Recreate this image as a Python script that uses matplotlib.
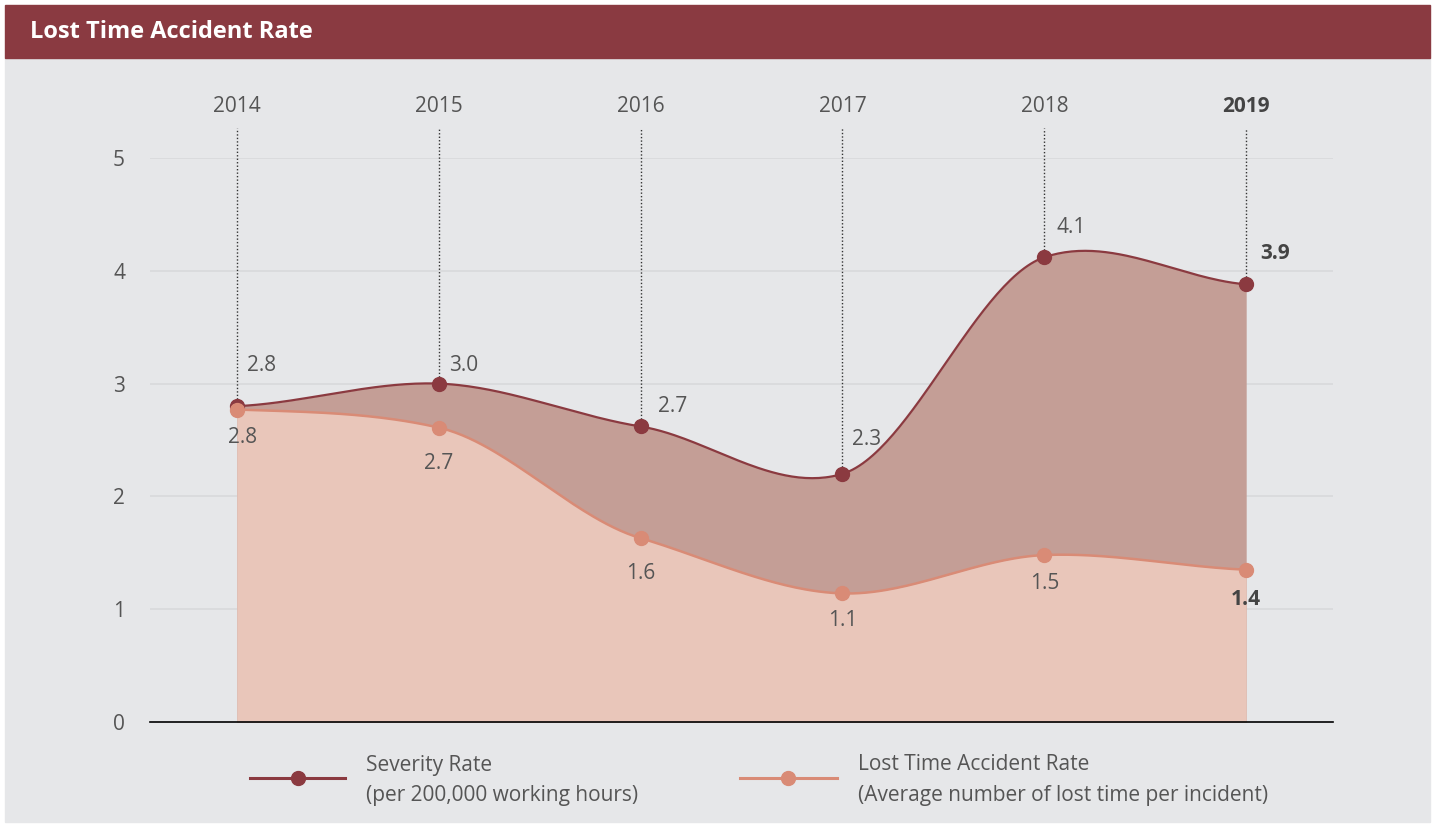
import numpy as np
import matplotlib
matplotlib.use("Agg")
import matplotlib.pyplot as plt
from matplotlib.patches import Rectangle
from matplotlib.lines import Line2D

plt.rcParams['font.family'] = ['Open Sans', 'DejaVu Sans']

# ---------------- data ----------------
years = ["2014", "2015", "2016", "2017", "2018", "2019"]
severity = [2.80, 3.00, 2.62, 2.20, 4.12, 3.88]
severity_labels = ["2.8", "3.0", "2.7", "2.3", "4.1", "3.9"]
lost_time = [2.77, 2.61, 1.63, 1.14, 1.48, 1.35]
lost_time_labels = ["2.8", "2.7", "1.6", "1.1", "1.5", "1.4"]
yticks = [0, 1, 2, 3, 4, 5]
title = "Lost Time Accident Rate"
legend_sev = ["Severity Rate", "(per 200,000 working hours)"]
legend_lost = ["Lost Time Accident Rate", "(Average number of lost time per incident)"]

# ---------------- style ----------------
W, H = 1435, 827
C_BAR = "#8A3A41"
C_BG = "#E6E7E9"
C_SEV = "#8B3A40"
C_SEV_FILL = "#C49E96"
C_LOST = "#D98B76"
C_LOST_FILL = "#E9C6BA"
C_TXT = "#555555"
C_TXT_B = "#444444"
# label offsets in pixels (style only)
sev_off = [(25, 41), (25, 18), (32, 20), (24, 34), (27, 30), (29, 31)]
lost_off = [(6, -28), (0, -36), (0, -35), (0, -27), (0, -28), (0, -30)]


def smooth(y, n=60, k=0.36):
    """Cubic Hermite curve through the points (cardinal-spline tangents)."""
    y = np.asarray(y, float)
    npts = len(y)
    m = np.zeros(npts)
    for i in range(npts):
        if i == 0:
            m[i] = (y[1] - y[0]) * 0.4
        elif i == npts - 1:
            m[i] = (y[-1] - y[-2]) * 0.6
        else:
            m[i] = (y[i + 1] - y[i - 1]) * k
    xs, ys = [], []
    for i in range(npts - 1):
        t = np.linspace(0, 1, n, endpoint=(i == npts - 2))
        h00 = 2 * t**3 - 3 * t**2 + 1
        h10 = t**3 - 2 * t**2 + t
        h01 = -2 * t**3 + 3 * t**2
        h11 = t**3 - t**2
        xs.append(i + t)
        ys.append(h00 * y[i] + h10 * m[i] + h01 * y[i + 1] + h11 * m[i + 1])
    return np.concatenate(xs), np.concatenate(ys)


fig = plt.figure(figsize=(W / 100, H / 100), dpi=100)
fig.patch.set_facecolor("white")

# background panel and title bar
fig.add_artist(Rectangle((5 / W, 1 - 822 / H), 1425 / W, (822 - 58) / H,
                         transform=fig.transFigure, color=C_BG, zorder=-10))
fig.add_artist(Rectangle((5 / W, 1 - 58 / H), 1425 / W, 53 / H,
                         transform=fig.transFigure, color=C_BAR, zorder=-10))
fig.text(30 / W, 1 - 32 / H, title, color="white", fontsize=17,
         fontweight="bold", va="center", ha="left")

# axes
left, right, top, bottom = 150, 1333, 158, 722
ax = fig.add_axes([left / W, 1 - bottom / H, (right - left) / W, (bottom - top) / H])
ax.set_facecolor("none")
ax.set_zorder(1)
x = np.arange(len(years))
ax.set_xlim(-0.43, len(years) - 1 + 0.43)
ax.set_ylim(0, 5)

for s in ["top", "right", "left"]:
    ax.spines[s].set_visible(False)
ax.spines["bottom"].set_color("black")
ax.spines["bottom"].set_linewidth(1.2)
ax.spines["bottom"].set_zorder(10)
ax.set_xticks([])
ax.set_yticks(yticks)
ax.set_yticklabels([str(v) for v in yticks], fontsize=15, color=C_TXT)
ax.tick_params(axis="y", length=0, pad=18)
for v in yticks[1:]:
    ax.axhline(v, color="#D8D9DB", lw=1.2, zorder=1)

sx, sy = smooth(severity)
lx, ly = smooth(lost_time)
ax.fill_between(sx, 0, sy, color=C_SEV_FILL, lw=0, zorder=2)
ax.fill_between(lx, 0, ly, color=C_LOST_FILL, lw=0, zorder=3)
ax.plot(sx, sy, color=C_SEV, lw=1.6, zorder=4)
ax.plot(lx, ly, color=C_LOST, lw=1.8, zorder=5)

# dotted guide lines and year labels
for i, yr in enumerate(years):
    ax.plot([x[i], x[i]], [severity[i], 5.27], color="#333333", lw=1,
            ls=(0, (1, 1.5)), zorder=6, clip_on=False)
    bold = (i == len(years) - 1)
    ax.text(x[i], 5.46, yr, ha="center", va="center", fontsize=15,
            color=C_TXT_B if bold else C_TXT, fontweight="bold" if bold else "normal")

ax.plot(x, severity, "o", color=C_SEV, ms=10, zorder=7, clip_on=False)
ax.plot(x, lost_time, "o", color=C_LOST, ms=10, zorder=8, clip_on=False)

for i in range(len(years)):
    bold = (i == len(years) - 1)
    kw = dict(fontsize=15, color=C_TXT_B if bold else C_TXT,
              fontweight="bold" if bold else "normal", zorder=9)
    ax.annotate(severity_labels[i], (x[i], severity[i]), xytext=sev_off[i],
                textcoords="offset pixels", ha="center", va="center", **kw)
    ax.annotate(lost_time_labels[i], (x[i], lost_time[i]), xytext=lost_off[i],
                textcoords="offset pixels", ha="center", va="center", **kw)

# legend (manual)
def legend_entry(x0, x1, color, lines):
    yc = 1 - 778 / H
    fig.add_artist(Line2D([x0 / W, x1 / W], [yc, yc], color=color, lw=2.2,
                          transform=fig.transFigure))
    fig.add_artist(Line2D([(x0 + x1) / 2 / W], [yc], marker="o", ms=10,
                          color=color, transform=fig.transFigure))
    fig.text((x1 + 21) / W, 1 - 765 / H, lines[0], fontsize=15, color=C_TXT,
             va="center", ha="left")
    fig.text((x1 + 21) / W, 1 - 795 / H, lines[1], fontsize=15, color=C_TXT,
             va="center", ha="left")

legend_entry(250, 345, C_SEV, legend_sev)
legend_entry(740, 837, C_LOST, legend_lost)

fig.savefig("out.png", dpi=100, facecolor=fig.get_facecolor())
